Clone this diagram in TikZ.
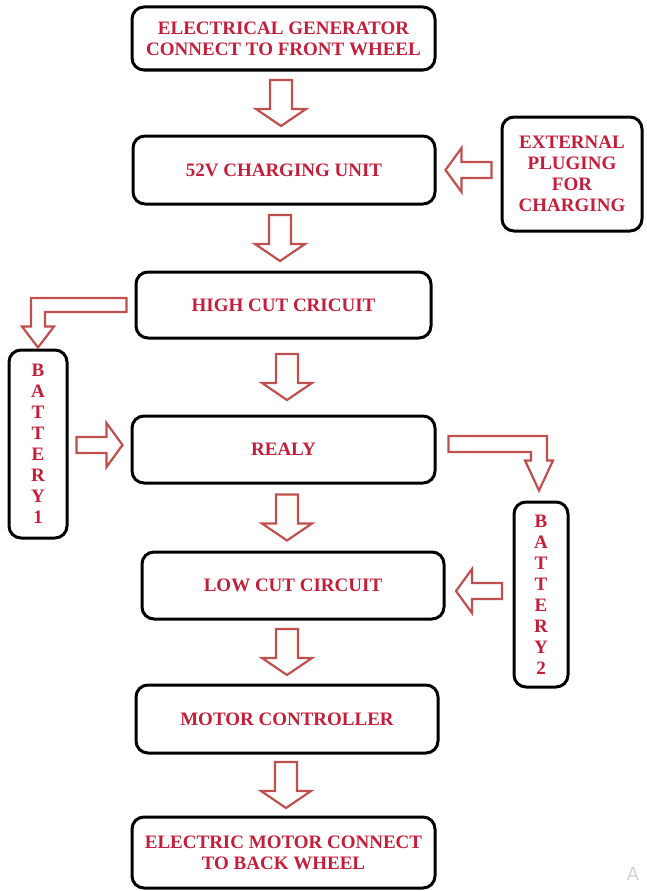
\documentclass[tikz,border=0pt]{standalone}
\usepackage{fontspec}
\setmainfont{Liberation Serif}
\setsansfont{DejaVu Sans}
\usetikzlibrary{calc}
\definecolor{txtred}{RGB}{196,30,58}
\definecolor{arrred}{RGB}{192,80,77}
\newcommand{\boxfont}{\bfseries\fontsize{19}{21}\selectfont}
\tikzset{blk/.style = {draw=black, line width=3pt, rounded corners=12pt, fill=white,
                       text=txtred, font=\boxfont, align=center, inner sep=0pt},
         hollow/.style = {draw=arrred, line width=2.2pt, fill=white, line join=miter}}
% hollow arrow pointing down, centred in the gap between two boxes
\newcommand{\downblock}[3]{%
  \draw [hollow] let \p1=(#1.south), \p2=(#2.north), \n1={(\y1+\y2)/2}, \n2={\x1+#3} in
    (\n2-11pt,\n1+23pt) -- (\n2+11pt,\n1+23pt) -- (\n2+11pt,\n1-6pt) -- (\n2+25pt,\n1-6pt)
    -- (\n2,\n1-23pt) -- (\n2-25pt,\n1-6pt) -- (\n2-11pt,\n1-6pt) -- cycle;}
% hollow arrow pointing left, from #1 to #2
\newcommand{\leftblock}[3]{%
  \draw [hollow] let \p1=(#1.west), \p2=(#2.east), \n1={(\x1+\x2)/2}, \n2={\y2+#3} in
    (\n1+23pt,\n2+8pt) -- (\n1-7pt,\n2+8pt) -- (\n1-7pt,\n2+22pt) -- (\n1-23pt,\n2)
    -- (\n1-7pt,\n2-22pt) -- (\n1-7pt,\n2-8pt) -- (\n1+23pt,\n2-8pt) -- cycle;}
% hollow arrow pointing right, from #1 to #2
\newcommand{\rightblock}[3]{%
  \draw [hollow] let \p1=(#1.east), \p2=(#2.west), \n1={(\x1+\x2)/2}, \n2={\y2+#3} in
    (\n1-23pt,\n2+8pt) -- (\n1+7pt,\n2+8pt) -- (\n1+7pt,\n2+22pt) -- (\n1+23pt,\n2)
    -- (\n1+7pt,\n2-22pt) -- (\n1+7pt,\n2-8pt) -- (\n1-23pt,\n2-8pt) -- cycle;}

\begin{document}
\begin{tikzpicture}[x=1pt, y=-1pt]
    \useasboundingbox (0,0) rectangle (646,891);

    \node [blk, minimum width=303, minimum height=63] (gen) at (283.5,38.5)
          {ELECTRICAL GENERATOR\\CONNECT TO FRONT WHEEL};
    \node [blk, minimum width=302, minimum height=68] (chg) at (284,170) {52V CHARGING UNIT};
    \node [blk, minimum width=140, minimum height=114] (ext) at (572,174)
          {EXTERNAL\\PLUGING\\FOR\\CHARGING};
    \node [blk, minimum width=295, minimum height=66] (high) at (283.5,305) {HIGH CUT CRICUIT};
    \node [blk, minimum width=303, minimum height=67] (relay) at (283.5,449.5) {REALY};
    \node [blk, minimum width=302, minimum height=67] (low) at (293,585.5) {LOW CUT CIRCUIT};
    \node [blk, minimum width=302, minimum height=68] (mc) at (287,719) {MOTOR CONTROLLER};
    \node [blk, minimum width=303, minimum height=71] (motor) at (283.5,852.5)
          {ELECTRIC MOTOR CONNECT\\TO BACK WHEEL};
    \node [blk, minimum width=58, minimum height=188] (bat1) at (38,444) {B\\A\\T\\T\\E\\R\\Y\\1};
    \node [blk, minimum width=54, minimum height=185] (bat2) at (541,594.5) {B\\A\\T\\T\\E\\R\\Y\\2};

    \downblock{gen}{chg}{-2.5pt}
    \downblock{chg}{high}{-4pt}
    \downblock{high}{relay}{3.5pt}
    \downblock{relay}{low}{3.5pt}
    \downblock{low}{mc}{-6pt}
    \downblock{mc}{motor}{-1pt}

    \leftblock{ext}{chg}{0pt}
    \leftblock{bat2}{low}{-5.5pt}
    \rightblock{bat1}{relay}{4.5pt}

    % elbow arrows to the two batteries
    \draw [hollow] let \p1=([xshift=-8pt]high.west), \p2=([yshift=1pt]bat1.north) in
      (\x1,\y1+7pt) -- (\x2-7pt,\y1+7pt) -- (\x2-7pt,\y2+21pt) -- (\x2-16pt,\y2+21pt) -- (\x2,\y2)
      -- (\x2+16pt,\y2+21pt) -- (\x2+7pt,\y2+21pt) -- (\x2+7pt,\y1-7pt) -- (\x1,\y1-7pt) -- cycle;
    \draw [hollow] let \p1=([xshift=12pt,yshift=5.5pt]relay.east), \p2=([xshift=-2pt,yshift=10pt]bat2.north) in
      (\x1,\y1+8pt) -- (\x2+8pt,\y1+8pt) -- (\x2+8pt,\y2+30pt) -- (\x2+14pt,\y2+30pt) -- (\x2,\y2)
      -- (\x2-14pt,\y2+30pt) -- (\x2-8pt,\y2+30pt) -- (\x2-8pt,\y1-8pt) -- (\x1,\y1-8pt) -- cycle;

    \node [text=gray!35, font=\sffamily\fontsize{18}{18}\selectfont] (mark) at (633,874) {A};
\end{tikzpicture}
\end{document}
